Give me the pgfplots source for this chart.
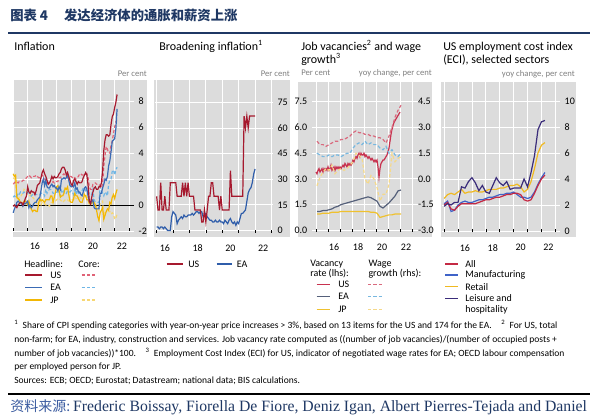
\documentclass[border=0pt]{standalone}
\usepackage{pgfplots}
\pgfplotsset{compat=1.18}
\usepackage{pgfplotstable}
\usepackage{fontspec}
\setmainfont{Carlito}
\newfontfamily\cjk{Noto Sans CJK SC}
\newfontfamily\tnr{Liberation Serif}

\definecolor{bgray}{HTML}{DCDCDC}
\definecolor{navy}{HTML}{1F3864}
\definecolor{cjkblue}{HTML}{3A5BA0}
\definecolor{usred}{HTML}{A6192E}
\definecolor{eablue}{HTML}{3A6BB5}
\definecolor{jpyel}{HTML}{F2B705}
\definecolor{uscore}{HTML}{E06377}
\definecolor{eacore}{HTML}{6EB6E6}
\definecolor{jpcore}{HTML}{F7D774}
\definecolor{bUS}{HTML}{A6192E}
\definecolor{bEA}{HTML}{2F5DAA}
\definecolor{vUS}{HTML}{C8324F}
\definecolor{vEA}{HTML}{55607A}
\definecolor{vJP}{HTML}{EFC12F}
\definecolor{wUS}{HTML}{D96A7E}
\definecolor{wEA}{HTML}{78B8E0}
\definecolor{wJP}{HTML}{F5D98A}
\definecolor{eAll}{HTML}{C42A44}
\definecolor{eMan}{HTML}{3F63C8}
\definecolor{eRet}{HTML}{F0B921}
\definecolor{eLei}{HTML}{3A2C7A}
\definecolor{subgray}{HTML}{808080}

\newcommand\lgf{\fontsize{7.5}{9}\selectfont}
\newcommand\ttf{\fontsize{9}{10.5}\selectfont}
\newcommand\sbf{\fontsize{6.5}{8}\selectfont}
\newcommand\fnf{\fontsize{7.15}{8}\selectfont}

\tikzset{
  ln/.style={line width=0.9pt},
  dsh/.style={line width=0.9pt, dash pattern=on 2.4pt off 1.6pt},
}

% Inflation, months since Jan 2015
\pgfplotstableread{
m usH usC eaH eaC jpH jpC
0 -0.1 1.6 -0.6 0.6 2.4 2.1
1 0.0 1.7 -0.3 0.7 2.2 2.0
2 -0.1 1.8 -0.1 0.6 2.3 2.1
3 -0.2 1.8 0.2 0.6 0.6 0.4
4 0.0 1.7 0.3 0.9 0.5 0.4
5 0.1 1.8 0.2 0.8 0.4 0.6
6 0.2 1.8 0.2 1.0 0.2 0.6
7 0.2 1.8 0.1 0.9 0.2 0.8
8 0.0 1.9 -0.1 0.9 0.0 0.9
9 0.2 1.9 0.1 1.0 0.3 1.2
10 0.5 2.0 0.1 0.9 0.3 1.1
11 0.7 2.1 0.2 0.9 0.2 1.0
12 1.4 2.2 0.3 1.0 0.0 0.8
13 1.0 2.3 -0.2 0.8 0.3 0.8
14 0.9 2.2 0.0 1.0 -0.1 0.7
15 1.1 2.1 -0.2 0.7 -0.3 0.8
16 1.0 2.2 -0.1 0.8 -0.5 0.6
17 1.0 2.2 0.1 0.9 -0.4 0.5
18 0.8 2.2 0.2 0.9 -0.4 0.3
19 1.1 2.3 0.2 0.8 -0.5 0.2
20 1.5 2.2 0.4 0.8 -0.5 0.0
21 1.6 2.1 0.5 0.8 0.1 0.2
22 1.7 2.1 0.6 0.8 0.5 0.1
23 2.1 2.2 1.1 0.9 0.3 0.0
24 2.5 2.3 1.7 0.9 0.4 0.2
25 2.7 2.2 2.0 0.9 0.3 0.1
26 2.4 2.0 1.5 0.7 0.2 0.1
27 2.2 1.9 1.9 1.2 0.4 0.0
28 1.9 1.7 1.4 0.9 0.4 0.0
29 1.6 1.7 1.3 1.1 0.4 0.0
30 1.7 1.7 1.3 1.2 0.4 -0.1
31 1.9 1.7 1.5 1.2 0.7 0.2
32 2.2 1.7 1.6 1.1 0.7 0.2
33 2.0 1.8 1.4 0.9 0.2 0.2
34 2.2 1.7 1.5 0.9 0.6 0.3
35 2.1 1.8 1.3 0.9 1.0 0.3
36 2.1 1.8 1.3 1.0 1.4 0.4
37 2.2 1.8 1.1 1.0 1.5 0.5
38 2.4 2.1 1.4 1.0 1.1 0.5
39 2.5 2.1 1.2 0.7 0.6 0.4
40 2.8 2.2 2.0 1.1 0.7 0.3
41 2.9 2.3 2.0 0.9 0.7 0.2
42 2.9 2.4 2.1 1.1 0.9 0.3
43 2.7 2.2 2.0 1.0 1.3 0.4
44 2.3 2.2 2.1 0.9 1.2 0.4
45 2.5 2.1 2.3 1.1 1.4 0.4
46 2.2 2.2 1.9 1.0 0.8 0.3
47 1.9 2.2 1.5 1.0 0.3 0.3
48 1.6 2.2 1.4 1.1 0.2 0.4
49 1.5 2.1 1.5 1.0 0.2 0.4
50 1.9 2.0 1.4 0.8 0.5 0.4
51 2.0 2.1 1.7 1.3 0.9 0.6
52 1.8 2.0 1.2 0.8 0.7 0.5
53 1.6 2.1 1.3 1.1 0.7 0.5
54 1.8 2.2 1.0 0.9 0.5 0.6
55 1.7 2.4 1.0 0.9 0.3 0.6
56 1.7 2.4 0.8 1.0 0.2 0.5
57 1.8 2.3 0.7 1.1 0.2 0.7
58 2.1 2.3 1.0 1.3 0.5 0.8
59 2.3 2.3 1.3 1.3 0.8 0.9
60 2.5 2.3 1.4 1.1 0.7 0.8
61 2.3 2.4 1.2 1.2 0.4 0.6
62 1.5 2.1 0.7 1.0 0.4 0.6
63 0.3 1.4 0.3 0.9 0.1 0.2
64 0.1 1.2 0.1 0.9 0.1 0.1
65 0.6 1.2 0.3 0.8 0.1 0.3
66 1.0 1.6 0.4 1.2 0.3 0.3
67 1.3 1.7 -0.2 0.4 0.2 -0.1
68 1.4 1.7 -0.3 0.2 0.0 0.0
69 1.2 1.6 -0.3 0.2 -0.4 -0.2
70 1.2 1.6 -0.3 0.2 -0.9 -0.3
71 1.4 1.6 -0.3 0.2 -1.2 -0.4
72 1.4 1.4 0.9 1.4 -0.6 0.1
73 1.7 1.3 0.9 1.1 -0.4 0.2
74 2.6 1.6 1.3 0.9 -0.2 0.3
75 4.2 3.0 1.6 0.7 -1.1 -0.8
76 5.0 3.8 2.0 1.0 -0.8 -0.6
77 5.4 4.5 1.9 0.9 -0.5 -0.6
78 5.4 4.3 2.2 0.7 -0.3 -0.5
79 5.3 4.0 3.0 1.6 -0.4 -0.5
80 5.4 4.0 3.4 1.9 0.2 -0.5
81 6.2 4.6 4.1 2.0 0.1 -0.7
82 6.8 4.9 4.9 2.6 0.6 -0.6
83 7.0 5.5 5.0 2.7 0.8 -0.7
84 7.5 6.0 5.1 2.3 0.5 -1.1
85 7.9 6.4 5.9 2.7 0.9 -1.0
86 8.5 6.5 7.4 2.9 1.2 -0.7
}\infl

% Broadening inflation, months since Jan 2016
\pgfplotstableread{
m us ea
0 20 2
1 12 2
2 12 1
3 28 2
4 12 2
5 12 1
6 20 2
7 12 1
8 12 0
9 12 0
10 28 0
11 28 8
12 28 11
13 28 10
14 28 9
15 20 4
16 20 6
17 20 7
18 20 8
19 28 7
20 20 9
21 28 8
22 20 8
23 28 9
24 20 9
25 20 9
26 20 10
27 20 9
28 12 10
29 12 11
30 12 11
31 12 10
32 12 11
33 5 11
34 5 8
35 12 9
36 5 10
37 12 8
38 20 7
39 20 6
40 28 6
41 28 5
42 20 5
43 20 6
44 20 5
45 20 5
46 12 6
47 20 5
48 12 5
49 12 4
50 12 6
51 12 5
52 12 4
53 12 6
54 35 7
55 20 5
56 20 4
57 20 5
58 20 3
59 20 5
60 20 4
61 20 7
62 20 10
63 20 10
64 67 11
65 60 12
66 67 17
67 60 22
68 67 24
69 67 25
70 67 28
71 67 33
72 67 36
}\broad

% US vacancy rate, months since Jan 2015
\pgfplotstableread{
m v
0 3.4
1 3.3
2 3.5
3 3.6
4 3.4
5 3.5
6 3.6
7 3.4
8 3.6
9 3.5
10 3.6
11 3.5
12 3.7
13 3.5
14 3.6
15 3.8
16 3.5
17 3.6
18 3.7
19 3.5
20 3.7
21 3.6
22 3.7
23 3.6
24 3.7
25 3.6
26 3.7
27 3.8
28 3.7
29 3.9
30 3.8
31 3.7
32 3.9
33 3.8
34 3.9
35 3.8
36 3.9
37 4.1
38 4.0
39 4.2
40 4.3
41 4.2
42 4.4
43 4.5
44 4.3
45 4.5
46 4.4
47 4.4
48 4.5
49 4.3
50 4.4
51 4.3
52 4.2
53 4.3
54 4.2
55 4.1
56 4.2
57 4.1
58 4.0
59 4.1
60 4.0
61 4.1
62 3.7
63 3.1
64 3.6
65 3.9
66 4.0
67 4.1
68 4.1
69 4.2
70 4.3
71 4.4
72 4.6
73 4.8
74 5.2
75 5.6
76 5.9
77 6.1
78 6.3
79 6.4
80 6.5
81 6.6
82 6.7
83 6.8
84 6.9
}\usvac

% Quarterly vacancy (lhs) and wage growth (rhs)
\pgfplotstableread{
m eaV jpV usW eaW jpW
1 1.1 0.95 2.2 1.5 -0.4
4 1.1 0.95 2.0 1.4 0.1
7 1.15 1.0 2.0 1.3 0.4
10 1.15 1.0 1.9 1.3 0.6
13 1.2 1.0 2.0 1.4 0.5
16 1.25 1.05 2.1 1.3 0.8
19 1.35 1.05 2.2 1.4 0.3
22 1.4 1.05 2.2 1.4 0.5
25 1.5 1.1 2.3 1.3 0.6
28 1.55 1.1 2.3 1.4 0.5
31 1.6 1.1 2.4 1.5 0.6
34 1.65 1.1 2.5 1.5 0.8
37 1.7 1.1 2.7 1.8 1.0
40 1.75 1.1 2.8 2.0 1.5
43 1.8 1.1 2.7 2.1 1.4
46 1.85 1.1 2.7 2.0 1.2
49 1.9 1.1 2.6 2.2 0.0
52 1.95 1.1 2.6 2.0 -0.3
55 1.9 1.05 2.5 2.1 0.2
58 1.8 1.05 2.5 2.0 0.0
61 1.7 1.0 2.4 2.0 -0.5
64 1.4 0.75 2.4 1.8 -1.3
67 1.3 0.8 2.3 1.7 -0.9
70 1.45 0.85 2.1 1.9 -0.9
73 1.6 0.9 2.5 1.5 -0.3
76 1.8 0.9 3.0 1.7 1.5
79 2.0 0.95 3.6 1.4 1.0
82 2.3 0.95 4.0 1.3 1.2
85 2.35 0.95 4.3 1.5 1.3
}\vacq

% US ECI by sector, quarterly
\pgfplotstableread{
m all man ret lei
0 2.0 2.1 2.5 1.9
3 2.2 2.3 2.8 2.1
6 1.7 1.5 2.9 2.0
9 1.6 1.6 2.8 2.2
12 1.9 2.0 3.0 2.2
15 2.1 2.2 3.2 3.4
18 2.1 2.3 2.9 3.3
21 2.1 2.2 3.0 3.8
24 2.1 2.2 3.0 4.1
27 2.1 2.3 3.1 3.7
30 2.2 2.4 3.0 3.1
33 2.3 2.4 3.0 3.5
36 2.4 2.5 3.1 3.0
39 2.4 2.6 3.2 2.9
42 2.5 2.6 3.2 3.5
45 2.6 2.7 3.2 4.1
48 2.6 2.8 3.3 3.7
51 2.7 2.8 3.3 3.5
54 2.8 2.9 3.4 3.8
57 2.8 2.9 3.5 3.2
60 2.9 3.0 3.5 3.3
63 2.9 2.8 3.6 3.3
66 2.8 2.6 3.4 3.3
69 2.4 2.6 3.0 4.0
72 2.3 2.5 3.2 3.4
75 2.4 2.6 3.8 4.5
78 2.9 3.0 4.8 5.8
81 3.5 3.6 6.0 7.8
84 4.0 4.1 6.6 8.4
87 4.3 4.5 6.8 8.5
}\eci

\pgfplotsset{
  bis/.style={
    scale only axis,
    anchor=south west,
    axis line style={draw=none},
    tick label style={font=\lgf},
    /pgf/number format/assume math mode=true,
    ymajorgrids, xminorgrids,
    major grid style={white,line width=0.6pt},
    minor grid style={white,line width=0.6pt},
    ytick style={draw=none},
    major x tick style={draw=none},
    minor x tick style={black,line width=0.4pt},
    minor tick length=2.2pt,
    tick align=inside,
    xtick pos=left,
    xticklabel style={yshift=-5.5pt},
  },
}

\begin{document}
\begin{tikzpicture}
\path[use as bounding box, fill=white] (0,0) rectangle (450pt,313.5pt);

% header
\node[anchor=base west, inner sep=0, text=navy] at (7.5pt,297.8pt)
  {\cjk\bfseries\fontsize{10}{12}\selectfont 图表 4\hspace{1.2em}发达经济体的通胀和薪资上涨};
\draw[navy, line width=1.3pt] (6pt,288.8pt) -- (442.5pt,288.8pt);

% gray panels
\fill[bgray] (9.75pt,135.75pt) rectangle (110.25pt,253.5pt);
\fill[bgray] (115.5pt,135.75pt) rectangle (217.5pt,253.5pt);
\fill[bgray] (223.5pt,135.75pt) rectangle (324pt,252pt);
\fill[bgray] (330.75pt,135.75pt) rectangle (432pt,252pt);

% titles
\node[anchor=base west, inner sep=0] at (10.5pt,275.6pt) {\ttf Inflation};
\node[anchor=base west, inner sep=0] at (119.25pt,275.6pt) {\ttf Broadening inflation\textsuperscript{1}};
\node[anchor=base west, inner sep=0] at (225.75pt,275.6pt) {\ttf Job vacancies\textsuperscript{2} and wage};
\node[anchor=base west, inner sep=0] at (225.75pt,265.8pt) {\ttf growth\textsuperscript{3}};
\node[anchor=base west, inner sep=0] at (332.25pt,275.6pt) {\ttf US employment cost index};
\node[anchor=base west, inner sep=0] at (332.25pt,265.8pt) {\ttf (ECI), selected sectors};

\node[anchor=base east, inner sep=0, text=subgray] at (110.25pt,256pt) {\sbf Per cent};
\node[anchor=base east, inner sep=0, text=subgray] at (217.5pt,256pt) {\sbf Per cent};
\node[anchor=base west, inner sep=0, text=subgray] at (225.75pt,256.5pt) {\sbf Per cent};
\node[anchor=base east, inner sep=0, text=subgray] at (324pt,256.5pt) {\sbf yoy change, per cent};
\node[anchor=base east, inner sep=0, text=subgray] at (431.25pt,256pt) {\sbf yoy change, per cent};

% panel 1
\begin{axis}[bis, at={(9.45pt,140.25pt)}, width=91.05pt, height=113.1pt,
  xmin=-0.5, xmax=100, ymin=-2, ymax=9.6,
  xtick={18,42,66,90}, xticklabels={16,18,20,22},
  minor xtick={0,12,...,96},
  ytick={-2,0,...,8}, yticklabel pos=right,
  extra y ticks={0}, extra y tick labels={},
  extra y tick style={grid=major, major grid style={black,line width=0.5pt}, major tick length=0pt},
]
\addplot[jpcore, dsh] table[x=m,y=jpC]{\infl};
\addplot[eacore, dsh] table[x=m,y=eaC]{\infl};
\addplot[uscore, dsh] table[x=m,y=usC]{\infl};
\addplot[jpyel, ln] table[x=m,y=jpH]{\infl};
\addplot[eablue, ln] table[x=m,y=eaH]{\infl};
\addplot[usred, ln] table[x=m,y=usH]{\infl};
\end{axis}

% panel 2
\begin{axis}[bis, at={(116.25pt,138.75pt)}, width=88.35pt, height=114.75pt,
  xmin=-1.2, xmax=85, ymin=-1.5, ymax=88.15,
  xtick={6,30,54,78}, xticklabels={16,18,20,22},
  minor xtick={0,12,...,84},
  ytick={0,15,...,75}, yticklabel pos=right,
]
\addplot[bEA, ln] table[x=m,y=ea]{\broad};
\addplot[bUS, ln] table[x=m,y=us]{\broad};
\end{axis}

% panel 3
\begin{axis}[bis, at={(234pt,139.5pt)}, width=81pt, height=112.5pt,
  xmin=-4, xmax=104, ymin=-0.1, ymax=8.657,
  xtick={18,42,66,90}, xticklabels={16,18,20,22},
  minor xtick={0,12,...,96},
  ytick={0,1.5,...,7.5}, yticklabel pos=left,
  yticklabel style={/pgf/number format/fixed, /pgf/number format/fixed zerofill, /pgf/number format/precision=1},
]
\addplot[vJP, ln] table[x=m,y=jpV]{\vacq};
\addplot[vEA, ln] table[x=m,y=eaV]{\vacq};
\addplot[vUS, ln] table[x=m,y=v]{\usvac};
\end{axis}
\begin{axis}[bis, at={(234pt,139.5pt)}, width=81pt, height=112.5pt,
  xmin=-4, xmax=104, ymin=-3.1, ymax=5.657,
  xtick=\empty, ymajorgrids=false, xminorgrids=false,
  ytick={-3,-1.5,...,4.5}, yticklabel pos=right,
  yticklabel style={xshift=-5pt, /pgf/number format/fixed, /pgf/number format/fixed zerofill, /pgf/number format/precision=1},
]
\addplot[wJP, dsh] table[x=m,y=jpW]{\vacq};
\addplot[wEA, dsh] table[x=m,y=eaW]{\vacq};
\addplot[wUS, dsh] table[x=m,y=usW]{\vacq};
\end{axis}

% panel 4
\begin{axis}[bis, at={(331.35pt,139.275pt)}, width=88.65pt, height=112.725pt,
  xmin=-2, xmax=100, ymin=-0.1, ymax=11.46,
  xtick={18,42,66,90}, xticklabels={16,18,20,22},
  minor xtick={0,12,...,96},
  ytick={0,2,...,10}, yticklabel pos=right,
]
\addplot[eRet, ln] table[x=m,y=ret]{\eci};
\addplot[eMan, ln] table[x=m,y=man]{\eci};
\addplot[eAll, ln] table[x=m,y=all]{\eci};
\addplot[eLei, ln] table[x=m,y=lei]{\eci};
\end{axis}

% legends
\begin{scope}[every node/.style={inner sep=0, font=\lgf}]
\node[anchor=west] at (18pt,115.5pt) {Headline:};
\node[anchor=west] at (58.5pt,115.5pt) {Core:};
\draw[usred, ln] (18.75pt,107.25pt) -- (31.3pt,107.25pt);
\draw[eablue, ln] (18.75pt,97.7pt) -- (31.3pt,97.7pt);
\draw[jpyel, ln] (18.75pt,88.5pt) -- (31.3pt,88.5pt);
\node[anchor=west] at (37.5pt,107.25pt) {US};
\node[anchor=west] at (37.5pt,97.7pt) {EA};
\node[anchor=west] at (37.5pt,88.5pt) {JP};
\draw[uscore, dsh] (61.3pt,107.25pt) -- (71.25pt,107.25pt);
\draw[eacore, dsh] (61.3pt,97.7pt) -- (71.25pt,97.7pt);
\draw[jpcore, dsh] (61.3pt,88.5pt) -- (71.25pt,88.5pt);

\draw[bUS, ln] (125pt,115.5pt) -- (137.5pt,115.5pt);
\node[anchor=west] at (141pt,115.5pt) {US};
\draw[bEA, ln] (162.5pt,115.5pt) -- (173.8pt,115.5pt);
\node[anchor=west] at (177.5pt,115.5pt) {EA};

\node[anchor=west] at (232.5pt,115.5pt) {Vacancy};
\node[anchor=west] at (232.5pt,108.5pt) {rate (lhs):};
\node[anchor=west] at (276.2pt,115.5pt) {Wage};
\node[anchor=west] at (276.2pt,108.5pt) {growth (rhs):};
\draw[vUS, ln] (237.5pt,100.3pt) -- (247.5pt,100.3pt);
\draw[vEA, ln] (237.5pt,91pt) -- (247.5pt,91pt);
\draw[vJP, ln] (237.5pt,81.5pt) -- (247.5pt,81.5pt);
\node[anchor=west] at (253.5pt,100.3pt) {US};
\node[anchor=west] at (253.5pt,91pt) {EA};
\node[anchor=west] at (253.5pt,81.5pt) {JP};
\draw[wUS, dsh] (276pt,100.3pt) -- (286.5pt,100.3pt);
\draw[wEA, dsh] (276pt,91pt) -- (286.5pt,91pt);
\draw[wJP, dsh] (276pt,81.5pt) -- (286.5pt,81.5pt);

\draw[eAll, ln] (333.75pt,115.5pt) -- (343.5pt,115.5pt);
\draw[eMan, ln] (333.75pt,107.25pt) -- (343.5pt,107.25pt);
\draw[eRet, ln] (333.75pt,98.5pt) -- (343.5pt,98.5pt);
\draw[eLei, ln] (333.75pt,89.8pt) -- (343.5pt,89.8pt);
\node[anchor=west] at (348.75pt,115.5pt) {All};
\node[anchor=west] at (348.75pt,107.25pt) {Manufacturing};
\node[anchor=west] at (348.75pt,98.5pt) {Retail};
\node[anchor=west] at (348.75pt,89.8pt) {Leisure and};
\node[anchor=west] at (348.75pt,81pt) {hospitality};
\end{scope}

% footnotes
\begin{scope}[every node/.style={inner sep=0, anchor=base west, font=\fnf}]
\node at (10.5pt,66.8pt) {\textsuperscript{1}\ \ Share of CPI spending categories with year-on-year price increases > 3\%, based on 13 items for the US and 174 for the EA.\quad\textsuperscript{2}\ \ For US, total};
\node at (10.5pt,56.6pt) {non-farm; for EA, industry, construction and services. Job vacancy rate computed as ((number of job vacancies)/(number of occupied posts +};
\node at (10.5pt,46.4pt) {number of job vacancies))*100.\quad\textsuperscript{3}\ \ Employment Cost Index (ECI) for US, indicator of negotiated wage rates for EA; OECD labour compensation};
\node at (10.5pt,36.2pt) {per employed person for JP.};
\node at (10.5pt,26pt) {Sources: ECB; OECD; Eurostat; Datastream; national data; BIS calculations.};
\end{scope}
\draw[black, line width=1.1pt] (6pt,18pt) -- (442.5pt,18pt);
\node[anchor=base west, inner sep=0] at (7.5pt,4.8pt)
  {{\cjk\fontsize{10.5}{12}\selectfont\color{cjkblue}资料来源:}\ {\tnr\fontsize{11.8}{13}\selectfont\color{navy}Frederic Boissay, Fiorella De Fiore, Deniz Igan, Albert Pierres-Tejada and Daniel}};
\end{tikzpicture}
\end{document}
